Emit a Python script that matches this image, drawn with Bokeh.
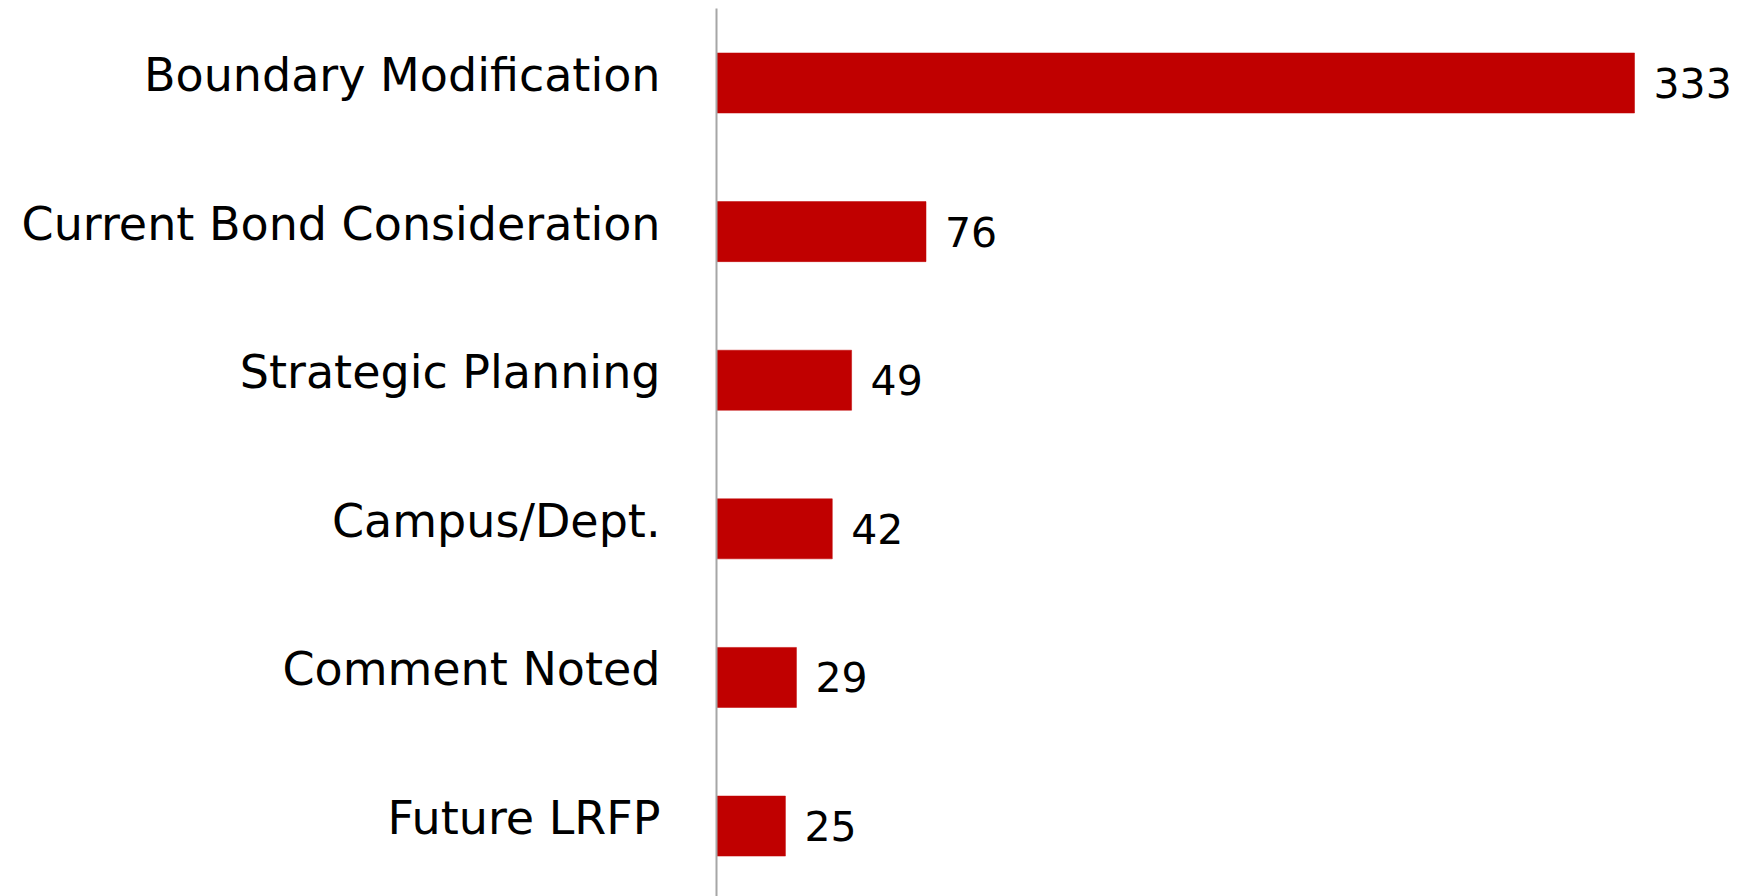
from bokeh.plotting import figure
from bokeh.models import Range1d, FixedTicker, CustomJSTickFormatter, ColumnDataSource
from bokeh.core.properties import value
from bokeh.embed import file_html
from bokeh.resources import INLINE

categories = ["Boundary Modification", "Current Bond Consideration", "Strategic Planning",
              "Campus/Dept.", "Comment Noted", "Future LRFP"]
counts = [333, 76, 49, 42, 29, 25]

idx = list(range(len(categories)))
src = ColumnDataSource(dict(y=idx, v=counts, lab=[str(c) for c in counts]))

p = figure(width=1736, height=896, output_backend="svg", toolbar_location=None,
           x_range=Range1d(0, 370), y_range=Range1d(5.474, -0.5013),
           x_axis_location=None, min_border_left=716, min_border_right=0,
           min_border_top=8, min_border_bottom=0)
p.outline_line_color = None
p.xgrid.visible = False
p.ygrid.visible = False

p.hbar(y="y", right="v", left=0, height=0.404, source=src,
       fill_color="#C00000", line_color="#C00000", line_width=0.5)
p.text(x="v", y="y", text="lab", source=src, x_offset=19,
       text_baseline="middle", text_align="left",
       text_font=value("DejaVu Sans"), text_font_size="41px", text_color="#000000")

ax = p.yaxis[0]
ax.ticker = FixedTicker(ticks=[i - 0.054 for i in idx])
ax.formatter = CustomJSTickFormatter(args=dict(cats=categories),
                                     code="return cats[Math.round(tick)];")
ax.major_tick_line_color = None
ax.minor_tick_line_color = None
ax.major_tick_out = 0
ax.major_tick_in = 0
ax.major_label_standoff = 56
ax.major_label_text_font = "DejaVu Sans"
ax.major_label_text_font_size = "46px"
ax.major_label_text_color = "#000000"
ax.axis_line_color = "#A6A6A6"
ax.axis_line_width = 2

open("out.html", "w").write(file_html(p, INLINE))
